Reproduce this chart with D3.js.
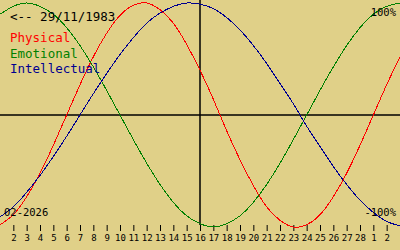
<!DOCTYPE html>
<html>
<head>
<meta charset="utf-8">
<script src="https://cdn.jsdelivr.net/npm/d3@7"></script>
<style>
body { margin: 0; background: #e0d088; }
svg { display: block; }
text { font-family: "DejaVu Sans Mono", monospace; }
</style>
</head>
<body>
<svg id="chart" width="400" height="250"></svg>
<script>
// days shown (Feb 1 .. Mar 3), today = 16
var days = [1,2,3,4,5,6,7,8,9,10,11,12,13,14,15,16,17,18,19,20,21,22,23,24,25,26,27,28,29,30,31];
var tickDays = [2,3,4,5,6,7,8,9,10,11,12,13,14,15,16,17,18,19,20,21,22,23,24,25,26,27,28,29,30];
var tickLabels = ["2","3","4","5","6","7","8","9","10","11","12","13","14","15","16","17","18","19","20","21","22","23","24","25","26","27","28","1","2"];
var today = 16;

var physical = [-0.98,-0.89,-0.73,-0.52,-0.27,0,0.27,0.52,0.73,0.89,0.98,1.00,0.94,0.82,0.63,0.40,0.14,-0.14,-0.40,-0.63,-0.82,-0.94,-1.00,-0.98,-0.89,-0.73,-0.52,-0.27,0,0.27,0.52];
var emotional = [0.90,0.97,1.00,0.97,0.90,0.78,0.62,0.43,0.22,0,-0.22,-0.43,-0.62,-0.78,-0.90,-0.97,-1.00,-0.97,-0.90,-0.78,-0.62,-0.43,-0.22,0,0.22,0.43,0.62,0.78,0.90,0.97,1.00];
var intellectual = [-0.91,-0.82,-0.69,-0.54,-0.37,-0.19,0,0.19,0.37,0.54,0.69,0.82,0.91,0.97,1.00,0.99,0.95,0.87,0.76,0.62,0.46,0.28,0.10,-0.10,-0.28,-0.46,-0.62,-0.76,-0.87,-0.95,-0.99];

var series = [
  {name: "Physical", values: physical, color: "#ff0000"},
  {name: "Emotional", values: emotional, color: "#008000"},
  {name: "Intellectual", values: intellectual, color: "#000090"}
];

var svg = d3.select("#chart");
var width = +svg.attr("width");

var x = d3.scaleLinear().domain([1, 31]).range([0, width]);
var y = d3.scaleLinear().domain([-1, 1]).range([227, 3]);

// axes lines
svg.append("line")
    .attr("x1", 0).attr("x2", width)
    .attr("y1", y(0)).attr("y2", y(0))
    .attr("stroke", "#000").attr("stroke-width", 1.5);

svg.append("line")
    .attr("x1", x(today)).attr("x2", x(today))
    .attr("y1", 0).attr("y2", 225)
    .attr("stroke", "#000").attr("stroke-width", 1.5);

// day ticks
var axis = svg.append("g")
    .attr("transform", "translate(0,225)")
    .call(d3.axisBottom(x)
        .tickValues(tickDays)
        .tickSize(6)
        .tickPadding(4)
        .tickFormat(function(d, i) { return tickLabels[i]; }));
axis.select(".domain").remove();
axis.selectAll("line").attr("stroke", "#000");
axis.selectAll("text")
    .attr("fill", "#000")
    .style("font-size", "9px")
    .style("font-family", "DejaVu Sans Mono, monospace");

// curves
var line = d3.line()
    .x(function(d, i) { return x(days[i]); })
    .y(function(d) { return y(d); })
    .curve(d3.curveNatural);

series.forEach(function(s) {
  svg.append("path")
      .datum(s.values)
      .attr("fill", "none")
      .attr("stroke", s.color)
      .attr("stroke-width", 1)
      .attr("shape-rendering", "crispEdges")
      .attr("d", line);
});

// labels
svg.append("text")
    .attr("x", 10).attr("y", 21)
    .style("font-size", "12.5px")
    .attr("fill", "#000")
    .text("<-- 29/11/1983");

series.forEach(function(s, i) {
  svg.append("text")
      .attr("x", 10).attr("y", 42 + i * 15.5)
      .style("font-size", "12.5px")
      .attr("fill", s.color)
      .text(s.name);
});

svg.append("text")
    .attr("x", 4).attr("y", 216)
    .style("font-size", "10.5px")
    .attr("fill", "#000")
    .text("02-2026");

svg.append("text")
    .attr("x", 396).attr("y", 16)
    .attr("text-anchor", "end")
    .style("font-size", "10.5px")
    .attr("fill", "#000")
    .text("100%");

svg.append("text")
    .attr("x", 396).attr("y", 216)
    .attr("text-anchor", "end")
    .style("font-size", "10.5px")
    .attr("fill", "#000")
    .text("-100%");
</script>
</body>
</html>
